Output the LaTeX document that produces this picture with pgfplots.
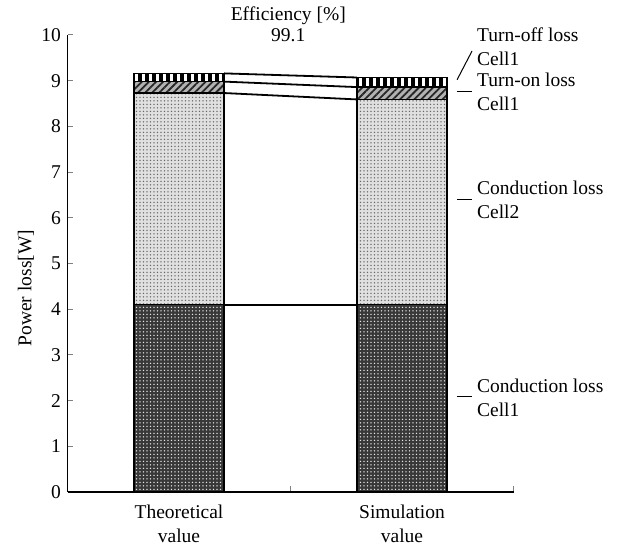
\documentclass[border=0pt]{standalone}
\usepackage{pgfplots}
\pgfplotsset{compat=1.18}
\usepackage{fontspec}
\setmainfont{Liberation Serif}
\usetikzlibrary{patterns.meta}
\pgfplotsset{common/.style={
  scale only axis,
  width=446bp, height=457bp,
  xmin=-0.5, xmax=1.5, ymin=0, ymax=10,
  clip=false,
}}
\begin{document}\fontsize{19.5bp}{24bp}\selectfont%
\begin{tikzpicture}
\begin{axis}[
  common,
  name=ax,
  ybar stacked, bar width=90bp, bar shift=0pt,
  axis x line*=bottom, axis y line*=left,
  axis line style={-, line width=1.2bp},
  xtick={0,1},
  xticklabels={{Theoretical\\value},{Simulation\\value}},
  xticklabel style={align=center, yshift=-6bp},
  major x tick style={draw=none},
  minor xtick={-0.5,0.5,1.5},
  minor x tick style={line width=1bp},
  minor tick length=6bp,
  ytick={0,1,...,10},
  major tick length=5bp,
  tick align=inside,
  y tick style={line width=1bp},
  /pgf/number format/assume math mode=true,
  ylabel={Power loss[W]},
  every axis y label/.style={at={(axis description cs:-0.093,0.446)}, rotate=90, anchor=center},
]
% Conduction loss Cell1
\addplot[draw=black, line width=1.6bp, fill=black!78,
  postaction={pattern={Dots[radius=0.8bp, distance=3.5bp]}, pattern color=white!80!gray}]
  coordinates {(0,4.10) (1,4.10)};
% Conduction loss Cell2
\addplot[draw=black, line width=1.6bp, fill=black!12,
  postaction={pattern={Dots[radius=0.8bp, distance=3.5bp]}, pattern color=black!60}]
  coordinates {(0,4.63) (1,4.49)};
% Turn-on loss Cell1
\addplot[draw=black, line width=1.6bp, fill=black!30,
  postaction={pattern={Lines[angle=45, distance=5bp, line width=1.8bp]}, pattern color=black!85}]
  coordinates {(0,0.25) (1,0.27)};
% Turn-off loss Cell1
\addplot[draw=black, line width=1.6bp, fill=white,
  postaction={pattern={Lines[angle=90, distance=7bp, line width=3.5bp]}, pattern color=black}]
  coordinates {(0,0.18) (1,0.21)};
\end{axis}
\begin{axis}[common, hide axis]
% connecting lines between bars
\addplot[black, line width=1.8bp] coordinates {(0.2018,4.10) (0.7982,4.10)};
\addplot[black, line width=1.8bp] coordinates {(0.2018,8.73) (0.7982,8.59)};
\addplot[black, line width=1.8bp] coordinates {(0.2018,8.98) (0.7982,8.86)};
\addplot[black, line width=1.8bp] coordinates {(0.2018,9.16) (0.7982,9.07)};
% leader lines
\addplot[black, line width=1bp] coordinates {(1.247,9.02) (1.314,9.65)};
\addplot[black, line width=1bp] coordinates {(1.247,8.77) (1.314,8.77)};
\addplot[black, line width=1bp] coordinates {(1.247,6.39) (1.314,6.39)};
\addplot[black, line width=1bp] coordinates {(1.247,2.10) (1.314,2.10)};
% annotations
\node[anchor=west, align=left, inner sep=0pt] at (axis cs:1.336,9.75) {Turn-off loss\\Cell1};
\node[anchor=west, align=left, inner sep=0pt] at (axis cs:1.336,8.76) {Turn-on loss\\Cell1};
\node[anchor=west, align=left, inner sep=0pt] at (axis cs:1.336,6.39) {Conduction loss\\Cell2};
\node[anchor=west, align=left, inner sep=0pt] at (axis cs:1.336,2.07) {Conduction loss\\Cell1};
\node[anchor=base, inner sep=0pt] at (axis cs:0.49,10.31) {Efficiency [\%]};
\node[anchor=base, inner sep=0pt] at (axis cs:0.49,9.86) {99.1};
\end{axis}
\path ([shift={(-67.5bp,-56bp)}]ax.south west) rectangle ([shift={(103.5bp,35bp)}]ax.north east);
\end{tikzpicture}%
\end{document}
